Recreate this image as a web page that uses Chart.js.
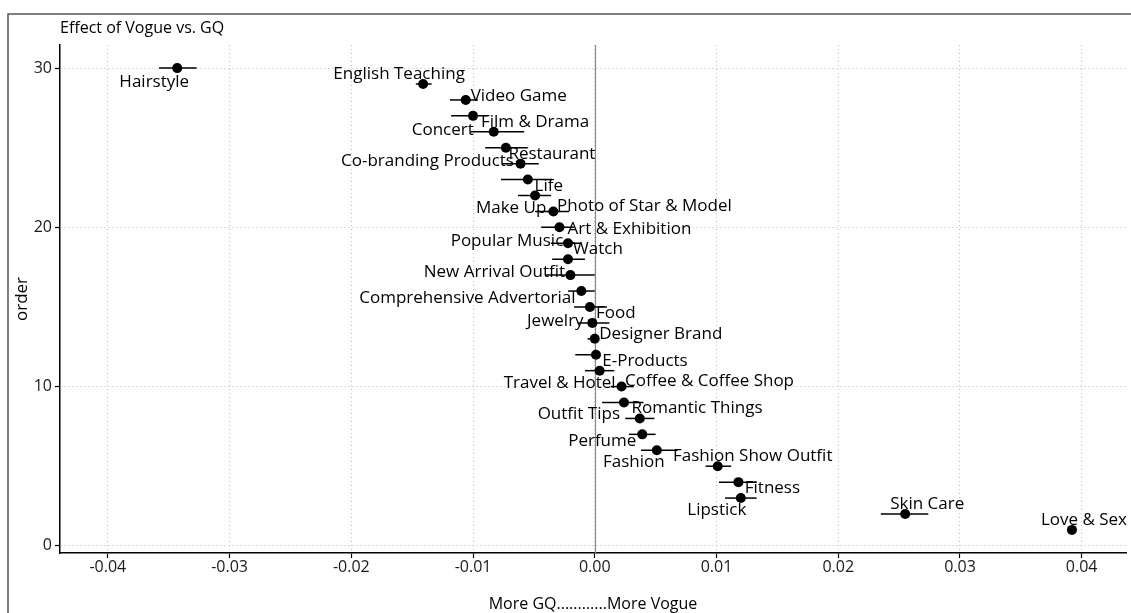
<!DOCTYPE html>
<html>
<head>
<meta charset="utf-8">
<script src="https://cdn.jsdelivr.net/npm/chart.js@4/dist/chart.umd.min.js"></script>
<style>
  body { margin: 0; background: #fff; }
  #wrap { width: 1131px; height: 613px; position: relative; }
</style>
</head>
<body>
<div id="wrap"><canvas id="myChart" width="1131" height="613"></canvas></div>
<script>
// topics, ordered from 1 (most Vogue) to 30 (most GQ)
var topics = ['Love & Sex', 'Skin Care', 'Lipstick', 'Fitness', 'Fashion Show Outfit',
  'Fashion', 'Perfume', 'Outfit Tips', 'Romantic Things', 'Coffee & Coffee Shop',
  'Travel & Hotel', 'E-Products', 'Designer Brand', 'Jewelry', 'Food',
  'Comprehensive Advertorial', 'New Arrival Outfit', 'Watch', 'Popular Music', 'Art & Exhibition',
  'Photo of Star & Model', 'Make Up', 'Life', 'Co-branding Products', 'Restaurant',
  'Concert', 'Film & Drama', 'Video Game', 'English Teaching', 'Hairstyle'];
var order = [1, 2, 3, 4, 5, 6, 7, 8, 9, 10, 11, 12, 13, 14, 15,
  16, 17, 18, 19, 20, 21, 22, 23, 24, 25, 26, 27, 28, 29, 30];
// estimated effect and interval ends
var effect = [0.0392, 0.0255, 0.0120, 0.0118, 0.0101, 0.0051, 0.0039, 0.0037, 0.0024, 0.0022,
  0.0004, 0.0001, 0.0000, -0.0002, -0.0004, -0.0011, -0.0020, -0.0022, -0.0022, -0.0029,
  -0.0034, -0.0049, -0.0055, -0.0061, -0.0073, -0.0083, -0.0100, -0.0106, -0.0141, -0.0343];
var lower = [0.0391, 0.0235, 0.0107, 0.0102, 0.0091, 0.0038, 0.0028, 0.0025, 0.0006, 0.0013,
  -0.0008, -0.0016, -0.0006, -0.0014, -0.0017, -0.0022, -0.0040, -0.0035, -0.0036, -0.0044,
  -0.0049, -0.0063, -0.0077, -0.0076, -0.0090, -0.0102, -0.0118, -0.0119, -0.0147, -0.0358];
var upper = [0.0393, 0.0274, 0.0133, 0.0133, 0.0112, 0.0068, 0.0050, 0.0049, 0.0040, 0.0032,
  0.0016, 0.0004, 0.0003, 0.0012, 0.0010, 0.0000, 0.0000, -0.0008, -0.0012, -0.0017,
  -0.0021, -0.0036, -0.0035, -0.0046, -0.0055, -0.0058, -0.0088, -0.0096, -0.0134, -0.0327];
var xTicks = [-0.04, -0.03, -0.02, -0.01, 0, 0.01, 0.02, 0.03, 0.04];
var yTicks = [0, 10, 20, 30];

// where each text label sits relative to its point (px), like a repel layout
var labelOffsets = [[12,-10],[22,-10],[-24,12],[34,6],[35,-10],[-23,12],[-40,7],[-61,-4],[73,6],[88,-5],
  [-40,12],[49,6],[66,-5],[-37,-2],[26,6],[-114,7],[-76,-3],[30,-10],[-61,-2],[70,2],
  [91,-5],[-24,13],[21,7],[-93,-2],[46,6],[-51,-2],[62,6],[53,-4],[-24,-10],[-23,14]];

var FONT = '"Open Sans", "Noto Sans", sans-serif';

var points = effect.map(function (v, i) { return { x: v, y: order[i] }; });

// zero line and error bars go under the points
var underPlugin = {
  id: 'under',
  beforeDatasetsDraw: function (chart) {
    var ctx = chart.ctx, xs = chart.scales.x, ys = chart.scales.y, a = chart.chartArea;
    ctx.save();
    ctx.strokeStyle = '#8a8a8a';
    ctx.lineWidth = 1.2;
    ctx.beginPath();
    ctx.moveTo(Math.round(xs.getPixelForValue(0)) + 0.5, a.top);
    ctx.lineTo(Math.round(xs.getPixelForValue(0)) + 0.5, a.bottom);
    ctx.stroke();
    ctx.strokeStyle = '#000';
    ctx.lineWidth = 1.5;
    for (var i = 0; i < effect.length; i++) {
      var py = ys.getPixelForValue(order[i]);
      ctx.beginPath();
      ctx.moveTo(xs.getPixelForValue(lower[i]), py);
      ctx.lineTo(xs.getPixelForValue(upper[i]), py);
      ctx.stroke();
    }
    ctx.restore();
  }
};

// labels, titles and outer frame
var textPlugin = {
  id: 'texts',
  afterDraw: function (chart) {
    var ctx = chart.ctx, xs = chart.scales.x, ys = chart.scales.y, a = chart.chartArea;
    ctx.save();
    ctx.fillStyle = '#000';
    ctx.font = '17px ' + FONT;
    ctx.textAlign = 'center';
    ctx.textBaseline = 'middle';
    for (var i = 0; i < topics.length; i++) {
      var px = xs.getPixelForValue(effect[i]), py = ys.getPixelForValue(order[i]);
      ctx.fillText(topics[i], px + labelOffsets[i][0], py + labelOffsets[i][1]);
    }
    ctx.font = '16px ' + FONT;
    ctx.textAlign = 'left';
    ctx.fillText('Effect of Vogue vs. GQ', a.left, 28);
    ctx.textAlign = 'center';
    ctx.fillText('More GQ............More Vogue', (a.left + a.right) / 2, 604);
    ctx.font = '17px ' + FONT;
    ctx.translate(22, (a.top + a.bottom) / 2);
    ctx.rotate(-Math.PI / 2);
    ctx.fillText('order', 0, 0);
    ctx.restore();
    ctx.save();
    ctx.strokeStyle = '#555';
    ctx.lineWidth = 1.5;
    ctx.beginPath();
    ctx.moveTo(8, 613);
    ctx.lineTo(8, 14);
    ctx.lineTo(1131, 14);
    ctx.stroke();
    ctx.restore();
  }
};

function createChart() {
  var ctx = document.getElementById('myChart').getContext('2d');
  new Chart(ctx, {
    type: 'scatter',
    data: {
      datasets: [{
        label: 'effect',
        data: points,
        pointRadius: 5,
        pointHoverRadius: 5,
        backgroundColor: '#000',
        borderColor: '#000',
        borderWidth: 0
      }]
    },
    options: {
      responsive: false,
      animation: false,
      events: [],
      layout: { padding: { top: 45, left: 0, right: 0, bottom: 0 } },
      plugins: { legend: { display: false }, tooltip: { enabled: false } },
      scales: {
        x: {
          type: 'linear',
          min: -0.04393,
          max: 0.04364,
          afterFit: function (s) { s.height = 60; },
          afterBuildTicks: function (s) { s.ticks = xTicks.map(function (v) { return { value: v }; }); },
          ticks: {
            font: { family: FONT, size: 16 },
            color: '#1a1a1a',
            padding: 0,
            maxRotation: 0,
            callback: function (v) { return v.toFixed(2); }
          },
          grid: { color: '#bdbdbd', lineWidth: 1, tickLength: 5, tickColor: '#000', tickWidth: 1.2 },
          border: { display: true, color: '#000', width: 1.5, dash: [1, 3] }
        },
        y: {
          type: 'linear',
          min: -0.45,
          max: 31.45,
          afterFit: function (s) { s.width = 60; },
          afterBuildTicks: function (s) { s.ticks = yTicks.map(function (v) { return { value: v }; }); },
          ticks: {
            font: { family: FONT, size: 16 },
            color: '#1a1a1a',
            padding: 3
          },
          grid: { color: '#bdbdbd', lineWidth: 1, tickLength: 5, tickColor: '#000', tickWidth: 1.2 },
          border: { display: true, color: '#000', width: 1.5, dash: [1, 3] }
        }
      }
    },
    plugins: [underPlugin, textPlugin]
  });
}
createChart();
</script>
</body>
</html>
